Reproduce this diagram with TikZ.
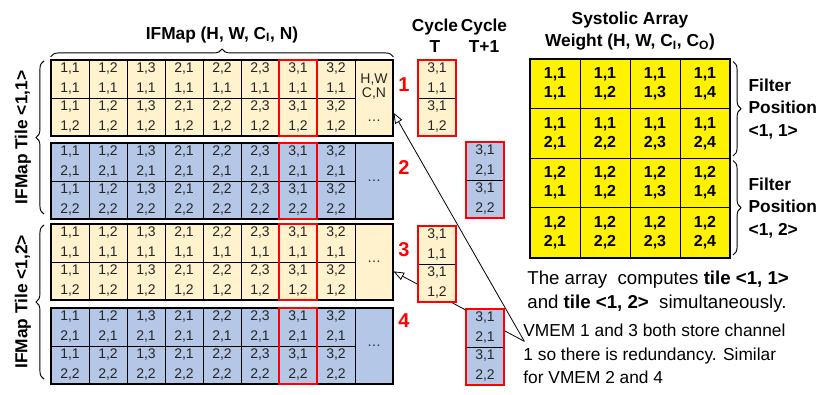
\documentclass[tikz,border=0pt]{standalone}
\usepackage{fontspec}
\setmainfont{Liberation Sans}
\usetikzlibrary{arrows.meta,decorations.pathreplacing,positioning}
\definecolor{tan}{HTML}{FFF2CC}
\definecolor{vblue}{HTML}{B4C7E7}

\begin{document}
\begin{tikzpicture}[x=0.75pt,y=-0.75pt,line width=0.6pt,
  cell/.style={draw,minimum width=28.5pt,minimum height=28.5pt,inner sep=0pt,align=center,
    font=\fontsize{10.5}{15}\selectfont,text=black!85},
  wcell/.style={draw,fill=yellow,minimum width=37.5pt,minimum height=37.1pt,inner sep=0pt,align=center,
    font=\bfseries\fontsize{12}{14.25}\selectfont},
  frame/.style={draw,line width=1.6pt},
  redbox/.style={draw=red,line width=1.6pt},
  num/.style={text=red,font=\bfseries\fontsize{15}{18}\selectfont},
  title/.style={font=\bfseries\fontsize{13}{16}\selectfont,align=center},
  note/.style={font=\fontsize{13}{17.5}\selectfont,align=left,inner sep=0pt},
  brc/.style={decorate,decoration={brace,amplitude=6pt},line width=0.7pt},
  ptr/.style={-{Triangle[open,length=8pt,width=6pt]},line width=0.6pt}]
  \useasboundingbox (0,0) rectangle (830,395);

  % IFMap tiles in VMEM
  \foreach \b/\ty/\fillc/\ch/\more in {1/60/tan/1/{H,W\\[-4.5pt]C,N\\[3pt]\ldots},2/143/vblue/2/\ldots,3/224/tan/1/\ldots,4/308/vblue/2/\ldots}{
    \foreach \col [count=\i from 0] in {{1,1},{1,2},{1,3},{2,1},{2,2},{2,3},{3,1},{3,2}}
      \foreach \r/\rr in {0/1,1/2}
        \node[cell,fill=\fillc] (c\b-\r-\i) at (70+38*\i,\ty+19+38*\r) {\col\\\ch,\rr};
    \node[cell,fill=\fillc,minimum height=57pt] (m\b) at (374,\ty+38) {\more};
    \draw[frame] (c\b-0-0.north west) rectangle (m\b.south east);
    \draw[redbox] (c\b-0-6.north west) rectangle (c\b-1-6.south east);
  }
  \node[num] (n1) at (404,85) {1};
  \node[num] (n2) at (404,168) {2};
  \node[num] (n3) at (404,250) {3};
  \node[num] (n4) at (404,321) {4};

  \draw[brc] ([yshift=2pt]c1-0-0.north west) -- ([yshift=2pt]m1.north east)
    node[midway,above=7pt,title] (ifm) {IFMap (H, W, C\textsubscript{I}, N)};
  \draw[brc] ([xshift=-5pt,yshift=4pt]c2-1-0.south west) -- ([xshift=-5pt,yshift=-1pt]c1-0-0.north west)
    node[midway,sloped,above=6pt,title] (tile1) {IFMap Tile <1,1>};
  \draw[brc] ([xshift=-5pt,yshift=4pt]c4-1-0.south west) -- ([xshift=-5pt,yshift=-1pt]c3-0-0.north west)
    node[midway,sloped,above=6pt,title] (tile2) {IFMap Tile <1,2>};

  % notes
  \node[note,anchor=north west,font=\fontsize{14}{17.5}\selectfont] (arr) at (527,271) {The array\ \ computes \textbf{tile <1, 1>}\\and \textbf{tile <1, 2>}\ \ simultaneously.};
  \node[note,anchor=north west] (vm) at (523,324) {VMEM 1 and 3 both store channel\\1 so there is redundancy. Similar\\for VMEM 2 and 4};
  \coordinate (src) at ([xshift=1pt,yshift=-13pt]vm.north west);
  \draw[ptr] (src) -- ([yshift=-11pt]m1.east);
  \draw[ptr] (src) -- ([yshift=-7pt]m3.east);

  % cycles
  \node[title] (hT) at (435,36) {Cycle\\T};
  \node[title] (hT1) at (484,36) {Cycle\\T+1};
  \foreach \k/\x/\y/\fillc/\ch in {1/437/60/tan/1,2/485/142/vblue/2,3/437/226/tan/1,4/485/309/vblue/2}{
    \node[cell,fill=\fillc] (t\k-0) at (\x,\y+19) {3,1\\\ch,1};
    \node[cell,fill=\fillc] (t\k-1) at (\x,\y+57) {3,1\\\ch,2};
    \draw[redbox] (t\k-0.north west) rectangle (t\k-1.south east);
  }

  % systolic array
  \node[title,font=\bfseries\fontsize{13}{16.5}\selectfont] (sys) at (630,31) {Systolic Array\\Weight (H, W, C\textsubscript{I}, C\textsubscript{O})};
  \foreach \r/\f/\h in {0/1/1,1/1/2,2/2/1,3/2/2}
    \foreach \c in {1,2,3,4}
      \node[wcell] (w\r-\c) at (555+50*\c-50,84+49.5*\r) {1,\f\\\h,\c};
  \draw[frame] (w0-1.north west) rectangle (w3-4.south east);
  \draw[brc] ([xshift=2pt,yshift=-2pt]w0-4.north east) -- ([xshift=2pt,yshift=2pt]w1-4.south east)
    node[midway,right=8pt,align=left,font=\bfseries\fontsize{13}{17}\selectfont] (fp1) {Filter\\Position\\<1, 1>};
  \draw[brc] ([xshift=2pt,yshift=-2pt]w2-4.north east) -- ([xshift=2pt,yshift=2pt]w3-4.south east)
    node[midway,right=8pt,align=left,font=\bfseries\fontsize{13}{17}\selectfont] (fp2) {Filter\\Position\\<1, 2>};
\end{tikzpicture}
\end{document}
